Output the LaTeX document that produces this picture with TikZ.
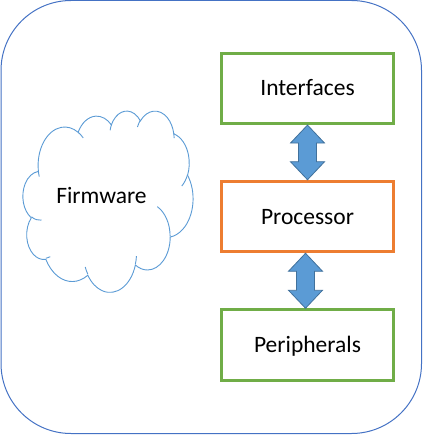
\documentclass[tikz,border=0pt]{standalone}
\usepackage{fontspec}
\setmainfont{Carlito}
\usetikzlibrary{calc}
\definecolor{frameblue}{HTML}{4472C4}
\definecolor{cloudblue}{HTML}{5B9BD5}
\definecolor{arrowfill}{HTML}{5B9BD5}
\definecolor{arrowedge}{HTML}{41719C}
\definecolor{boxgreen}{HTML}{70AD47}
\definecolor{boxorange}{HTML}{ED7D31}
\newcommand\carc[4]{arc[start angle={atan2(sin(#3)/#2,cos(#3)/#1)}, delta angle={Mod(atan2(sin(#3+#4)/#2,cos(#3+#4)/#1)-atan2(sin(#3)/#2,cos(#3)/#1),360)}, x radius=#1, y radius=#2]}
\newcommand\dblarrow[2]{%
  \draw[blockarrow] (#1) -- ($(#1)+(17,18)$) -- ($(#1)+(9,18)$) -- ($(#2)+(9,-18)$) -- ($(#2)+(17,-18)$) -- (#2) -- ($(#2)+(-17,-18)$) -- ($(#2)+(-9,-18)$) -- ($(#1)+(-9,18)$) -- ($(#1)+(-17,18)$) -- cycle;}
\tikzset{
  framebox/.style={draw=frameblue, line width=1pt, rounded corners=70pt, inner sep=0pt},
  cloudline/.style={draw=cloudblue, line width=0.9pt},
  txt/.style={text=black, text height=15.1pt, text depth=0pt, inner sep=0pt},
  partbox/.style={txt, line width=3pt, outer sep=1.5pt, minimum width=172pt, minimum height=70.5pt, fill=white},
  blockarrow/.style={fill=arrowfill, draw=arrowedge, line width=0.8pt, line join=miter}
}
\begin{document}
\begin{tikzpicture}[x=1pt, y=-1pt, font=\fontsize{23.5}{28}\selectfont]
\useasboundingbox (0,0) rectangle (424,435);
\node[framebox, minimum width=420.5pt, minimum height=433pt] (frame) at (211.25,217) {};
% cloud
\begin{scope}[shift={(23,110.5)}, x=0.39352pt, y=-0.41898pt]
\draw[cloudline, fill=white] (39.00,143.70)
  \carc{67.53}{91.90}{-190.4875}{123.7805}
  \carc{53.33}{72.67}{-144.1024}{89.9452}
  \carc{43.65}{59.45}{-145.8079}{99.7230}
  \carc{48.57}{65.95}{-130.9861}{117.2417}
  \carc{53.33}{72.73}{-78.7089}{109.0269}
  \carc{67.75}{92.20}{-46.2673}{130.2690}
  \carc{57.85}{78.67}{0.6250}{114.0333}
  \carc{67.52}{92.15}{22.4516}{115.1726}
  \carc{77.20}{105.43}{66.2426}{75.7110}
  \carc{43.60}{59.18}{-274.9421}{146.7356}
  \carc{43.45}{59.45}{-246.8285}{152.5189}
  -- cycle;
\draw[cloudline]
  (46.93,261.77) \carc{43.45}{59.45}{86.7420}{26.4295}
  (69.28,348.99) \carc{43.60}{59.18}{73.6105}{11.4475}
  (164.78,390.90) \carc{67.52}{92.15}{137.6242}{14.0811}
  (288.27,347.51) \carc{67.52}{92.15}{6.4533}{15.9984}
  (341.29,229.54) \carc{57.85}{78.67}{-70.2924}{70.9174}
  (417.98,153.54) \carc{53.33}{72.73}{30.3180}{27.7515}
  (383.24,54.26) \carc{48.57}{65.95}{-13.7443}{14.8589}
  (290.78,39.52) \carc{48.57}{65.95}{-149.1815}{18.1954}
  (221.41,47.20) \carc{43.65}{59.45}{-163.4943}{17.6864}
  (140.00,51.92) \carc{67.53}{91.90}{-66.7070}{12.3194}
  (41.27,157.89) \carc{67.53}{91.90}{157.6544}{11.8582};
\end{scope}
\node[txt] (fw) at (101.5,196) {Firmware};
% boxes
\node[partbox, draw=boxgreen] (iface) at (307.5,88.3) {Interfaces};
\node[partbox, draw=boxorange] (proc) at (307.5,216.5) {Processor};
\node[partbox, draw=boxgreen] (periph) at (307.5,345) {Peripherals};
% arrows
\dblarrow{iface.south}{proc.north}
\coordinate (a2t) at ($(proc.south)+(-2,0)$);
\coordinate (a2b) at ($(periph.north)+(-2,0)$);
\dblarrow{a2t}{a2b}
\end{tikzpicture}
\end{document}
